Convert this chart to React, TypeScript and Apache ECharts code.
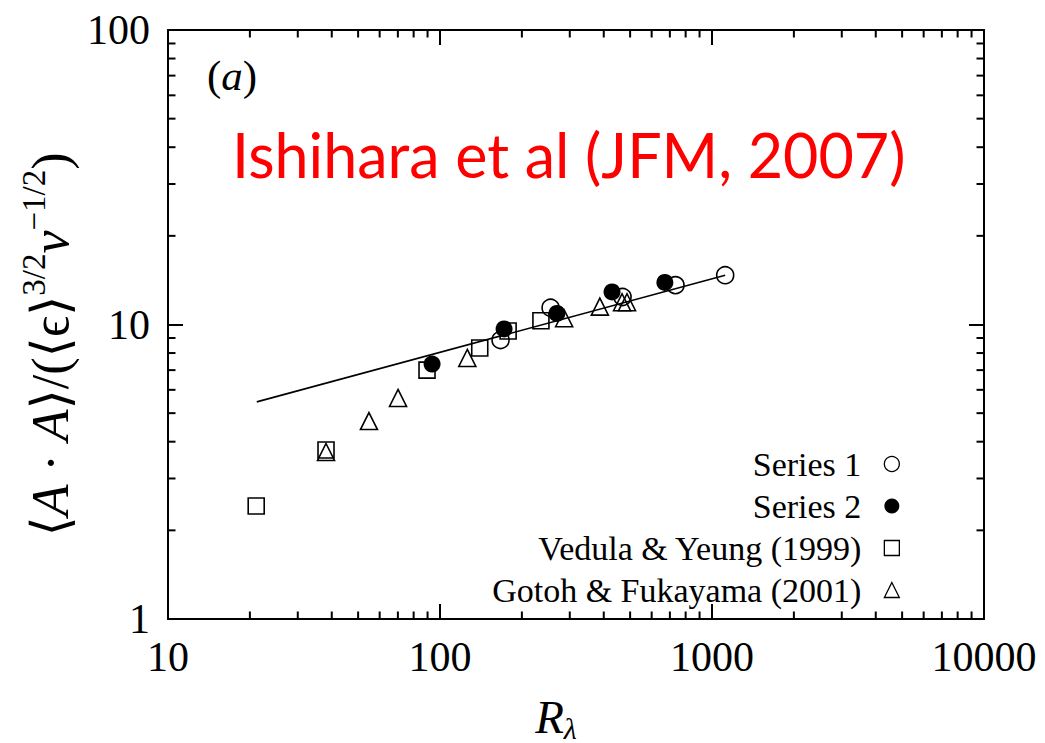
import React, { useEffect, useRef } from "react";
import * as echarts from "echarts";

// ---- data ----
const series1X = [167, 255, 469, 734, 1118];
const series1Y = [8.86, 11.4, 12.4, 13.6, 14.7];

const series2X = [93.5, 172, 269, 429, 671];
const series2Y = [7.34, 9.66, 10.9, 12.9, 13.9];

const vedulaX = [21.1, 38.1, 89.6, 140, 178, 235];
const vedulaY = [2.42, 3.75, 7.0, 8.32, 9.5, 10.3];

const gotohX = [38.1, 54.8, 70.1, 126, 286, 387, 467, 487];
const gotohY = [3.69, 4.7, 5.63, 7.7, 10.5, 11.5, 11.9, 11.9];

const fitX = [21.2, 1118];
const fitY = [5.46, 14.7];

const xMin = 10;
const xMax = 10000;
const yMin = 1;
const yMax = 100;
const xDecades = [10, 100, 1000];
const yDecades = [1, 10];
const minorMultipliers = [2, 3, 4, 5, 6, 7, 8, 9];

const legendNames = [
  "Series 1",
  "Series 2",
  "Vedula & Yeung (1999)",
  "Gotoh & Fukayama (2001)",
];

const zip = (xs: number[], ys: number[]) => xs.map((x, i) => [x, ys[i]]);

const SERIF = "'Liberation Serif', 'DejaVu Serif', serif";

export default function App() {
  const ref = useRef<HTMLDivElement>(null);

  useEffect(() => {
    if (!ref.current) return;
    const chart = echarts.init(ref.current, undefined, { renderer: "svg" });

    // minor tick positions: [x, y, side]
    const minorData: number[][] = [];
    xDecades.forEach((d) =>
      minorMultipliers.forEach((k) => {
        minorData.push([d * k, yMin, 0]);
        minorData.push([d * k, yMax, 1]);
      })
    );
    yDecades.forEach((d) =>
      minorMultipliers.forEach((k) => {
        minorData.push([xMin, d * k, 2]);
        minorData.push([xMax, d * k, 3]);
      })
    );

    const openStyle = {
      color: "rgba(0,0,0,0)",
      borderColor: "#000",
      borderWidth: 1.6,
      opacity: 1,
    };

    const axisCommon = {
      type: "log" as const,
      logBase: 10,
      axisLine: { show: true, lineStyle: { color: "#000", width: 2 } },
      axisTick: { show: true, inside: true, length: 15, lineStyle: { color: "#000", width: 2 } },
      splitLine: { show: false },
      minorTick: { show: false },
    };

    const mainFs = 47;
    const supFs = 30;
    const yFs = 52;
    const ySupFs = 33;

    chart.setOption({
      animation: false,
      backgroundColor: "#fff",
      grid: {
        left: 168,
        right: 61,
        top: 30,
        bottom: 124,
        containLabel: false,
        outerBoundsMode: "none",
      },
      xAxis: [
        {
          ...axisCommon,
          position: "bottom",
          min: xMin,
          max: xMax,
          axisLabel: {
            show: true,
            margin: 17,
            fontFamily: SERIF,
            fontSize: 42,
            color: "#000",
            formatter: (v: number) => String(Math.round(v)),
          },
          name: "{i|R}{s|λ}",
          nameLocation: "middle",
          nameGap: 72,
          nameTextStyle: {
            padding: [0, 40, 0, 0],
            rich: {
              i: {
                fontFamily: SERIF,
                fontStyle: "italic",
                fontSize: mainFs,
                color: "#000",
                lineHeight: 52,
              },
              s: {
                fontFamily: SERIF,
                fontStyle: "italic",
                fontSize: supFs,
                color: "#000",
                lineHeight: 20,
                verticalAlign: "bottom",
              },
            },
          },
        },
        {
          ...axisCommon,
          position: "top",
          min: xMin,
          max: xMax,
          axisLabel: { show: false },
        },
      ],
      yAxis: [
        {
          ...axisCommon,
          position: "left",
          min: yMin,
          max: yMax,
          axisLabel: {
            show: true,
            margin: 18,
            fontFamily: SERIF,
            fontSize: 42,
            color: "#000",
            formatter: (v: number) => String(Math.round(v)),
          },
          name: "{n|⟨}{i|A}{n| · }{i|A}{n|⟩/(⟨}{n|ϵ}{n|⟩}{s|3/2}{i|ν}{s|−1/2}{n|)}",
          nameLocation: "middle",
          nameGap: 78,
          nameTextStyle: {
            padding: [0, 40, 0, 0],
            rich: {
              n: {
                fontFamily: SERIF,
                fontSize: yFs,
                color: "#000",
                lineHeight: 66,
              },
              i: {
                fontFamily: SERIF,
                fontStyle: "italic",
                fontSize: yFs,
                color: "#000",
                lineHeight: 66,
              },
              s: {
                fontFamily: SERIF,
                fontSize: ySupFs,
                color: "#000",
                lineHeight: 26,
                verticalAlign: "top",
              },
            },
          },
        },
        {
          ...axisCommon,
          position: "right",
          min: yMin,
          max: yMax,
          axisLabel: { show: false },
        },
      ],
      legend: {
        orient: "vertical",
        right: 140,
        top: 440,
        align: "right",
        itemWidth: 15,
        itemHeight: 15,
        itemGap: 4,
        selectedMode: false,
        textStyle: {
          fontFamily: SERIF,
          fontSize: 34,
          color: "#000",
          padding: [0, 18, 0, 0],
          lineHeight: 38,
        },
        data: [
          { name: legendNames[0], icon: "circle", itemStyle: { ...openStyle, borderWidth: 1.3 } },
          { name: legendNames[1], icon: "circle", itemStyle: { color: "#000", borderWidth: 0, opacity: 1 } },
          { name: legendNames[2], icon: "rect", itemStyle: { ...openStyle, borderWidth: 1.3 } },
          { name: legendNames[3], icon: "triangle", itemStyle: { ...openStyle, borderWidth: 1.3 } },
        ],
      },
      graphic: [
        {
          type: "text",
          left: 207,
          top: 54,
          style: {
            text: "{n|(}{i|a}{n|)}",
            rich: {
              n: { fontFamily: SERIF, fontSize: 43, fill: "#000" },
              i: { fontFamily: SERIF, fontStyle: "italic", fontSize: 43, fill: "#000" },
            },
          },
        },
        {
          type: "text",
          left: 232,
          top: 124,
          style: {
            text: "Ishihara et al (JFM, 2007)",
            fontFamily: "Lato, 'Open Sans', sans-serif",
            fontSize: 61,
            fill: "#ff0000",
          },
        },
      ],
      series: [
        {
          type: "custom",
          xAxisIndex: 0,
          yAxisIndex: 0,
          silent: true,
          clip: false,
          data: minorData,
          renderItem: (params: any, api: any) => {
            const p = api.coord([api.value(0), api.value(1)]);
            const side = api.value(2);
            const L = 7.5;
            let x2 = p[0];
            let y2 = p[1];
            if (side === 0) y2 -= L;
            else if (side === 1) y2 += L;
            else if (side === 2) x2 += L;
            else x2 -= L;
            return {
              type: "line",
              shape: { x1: p[0], y1: p[1], x2, y2 },
              style: { stroke: "#000", lineWidth: 2 },
            };
          },
        },
        {
          name: "fit",
          type: "line",
          data: zip(fitX, fitY),
          showSymbol: false,
          symbol: "none",
          lineStyle: { color: "#000", width: 1.6 },
          silent: true,
        },
        {
          name: legendNames[2],
          type: "scatter",
          data: zip(vedulaX, vedulaY),
          symbol: "rect",
          symbolSize: 16,
          itemStyle: openStyle,
        },
        {
          name: legendNames[3],
          type: "scatter",
          data: zip(gotohX, gotohY),
          symbol: "triangle",
          symbolSize: 17,
          itemStyle: openStyle,
        },
        {
          name: legendNames[0],
          type: "scatter",
          data: zip(series1X, series1Y),
          symbol: "circle",
          symbolSize: 17,
          itemStyle: openStyle,
        },
        {
          name: legendNames[1],
          type: "scatter",
          data: zip(series2X, series2Y),
          symbol: "circle",
          symbolSize: 17,
          itemStyle: { color: "#000", opacity: 1 },
        },
      ],
    });

    return () => chart.dispose();
  }, []);

  return (
    <div
      ref={ref}
      style={{ position: "fixed", left: 0, top: 0, width: 1045, height: 743, background: "#fff" }}
    />
  );
}
